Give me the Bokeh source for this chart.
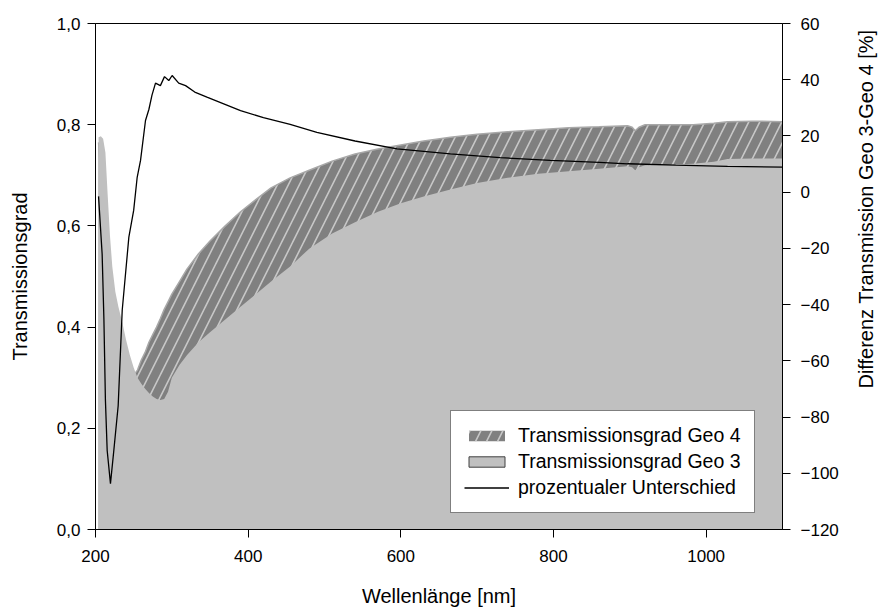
import numpy as np
from bokeh.plotting import figure
from bokeh.models import (Range1d, LinearAxis, FixedTicker, CustomJSTickFormatter,
                          Legend, LegendItem, ColumnDataSource, Label)
from bokeh.embed import file_html
from bokeh.resources import INLINE

# ---------------- data ----------------
wavelength = [204, 207, 210, 213, 216, 219, 222, 226, 230, 235, 240, 245, 250, 255,
              260, 265, 270, 275, 280, 285, 290, 295, 300, 310, 320, 335, 350, 370,
              390, 410, 430, 455, 480, 510, 540, 570, 600, 630, 665, 700, 740, 780,
              820, 860, 897, 903, 907, 912, 920, 950, 983, 1010, 1028, 1060, 1100]

geo3 = [0.775, 0.777, 0.772, 0.745, 0.66, 0.58, 0.52, 0.47, 0.44, 0.41, 0.375, 0.345,
        0.32, 0.30, 0.288, 0.278, 0.27, 0.263, 0.258, 0.256, 0.258, 0.272, 0.30,
        0.325, 0.345, 0.37, 0.39, 0.415, 0.44, 0.465, 0.49, 0.52, 0.555, 0.585,
        0.607, 0.628, 0.645, 0.658, 0.672, 0.685, 0.695, 0.703, 0.708, 0.713,
        0.718, 0.716, 0.71, 0.716, 0.72, 0.721, 0.723, 0.727, 0.732, 0.733, 0.733]

geo4 = [0.765, 0.70, 0.56, 0.45, 0.36, 0.29, 0.26, 0.25, 0.25, 0.28, 0.29, 0.295,
        0.305, 0.315, 0.335, 0.35, 0.37, 0.385, 0.40, 0.417, 0.435, 0.45, 0.465,
        0.49, 0.515, 0.545, 0.57, 0.60, 0.628, 0.652, 0.675, 0.695, 0.71, 0.728,
        0.742, 0.752, 0.76, 0.768, 0.775, 0.781, 0.786, 0.79, 0.794, 0.796,
        0.798, 0.795, 0.788, 0.795, 0.80, 0.80, 0.80, 0.803, 0.806, 0.807, 0.806]

diff_wavelength = [204, 208.7, 211, 213, 215.3, 219.6, 224, 229.7, 235, 243.7, 250,
                   254.6, 259, 265.5, 270, 274, 278.6, 285, 290.4, 296, 300.4, 309,
                   318, 330, 346, 368, 390, 420, 455, 490, 540, 595, 665, 730, 796,
                   860, 897, 960, 1028, 1100]
diff_percent = [-1.5, -22, -45, -74, -91.9, -103.7, -91.9, -76, -42, -16, -6.5,
                5.3, 11.3, 25.5, 29.5, 34.5, 38.8, 37.9, 41.1, 39.7, 41.5, 38.8,
                37.9, 35.6, 33.8, 31.4, 29, 26.5, 24.1, 21.3, 18.2, 15.4, 13.6,
                12.3, 11.3, 10.6, 10.1, 9.6, 9.2, 8.9]

x_ticks = [200, 400, 600, 800, 1000]
left_ticks = [0.0, 0.2, 0.4, 0.6, 0.8, 1.0]
right_ticks = [-120, -100, -80, -60, -40, -20, 0, 20, 40, 60]

labels = ["Transmissionsgrad Geo 4", "Transmissionsgrad Geo 3", "prozentualer Unterschied"]
x_title = "Wellenlänge [nm]"
y_title = "Transmissionsgrad"
y2_title = "Differenz Transmission Geo 3-Geo 4 [%]"

# ---------------- figure ----------------
FONT = "Liberation Sans"

p = figure(width=883, height=612, output_backend="svg", toolbar_location=None,
           x_range=Range1d(200, 1100), y_range=Range1d(0, 1.0),
           min_border_left=95, min_border_right=101, min_border_top=23,
           min_border_bottom=83)
p.extra_y_ranges = {"diff": Range1d(-120, 60)}

p.xgrid.visible = False
p.ygrid.visible = False
p.outline_line_color = "black"
p.outline_line_width = 1
p.background_fill_color = "white"
p.border_fill_color = "white"

src = ColumnDataSource(dict(x=wavelength, g3=geo3, g4=geo4, zero=[0.0] * len(wavelength)))

r4 = p.varea(x="x", y1="zero", y2="g4", source=src, fill_color="#808080",
             hatch_pattern="/", hatch_color="#c8c8c8", hatch_weight=1.6, hatch_scale=22)
p.line(x="x", y="g4", source=src, line_color="#a8a8a8", line_width=1.5)
p.varea(x="x", y1="zero", y2="g3", source=src, fill_color="#c0c0c0")
# legend-only swatch for Geo 3 (grey box with dark border)
nan_src = ColumnDataSource(dict(l=[np.nan], r=[np.nan], t=[np.nan], b=[np.nan]))
r3 = p.quad(left="l", right="r", top="t", bottom="b", source=nan_src,
            fill_color="#c0c0c0", line_color="#404040", line_width=1)
rl = p.line(x=diff_wavelength, y=diff_percent, y_range_name="diff",
            line_color="black", line_width=1.3)

# axes
def style_axis(ax, size="17px"):
    ax.axis_line_color = "black"
    ax.major_tick_line_color = "black"
    ax.major_tick_out = 8
    ax.major_tick_in = 0
    ax.minor_tick_line_color = None
    ax.major_label_text_font = FONT
    ax.major_label_text_font_size = size
    ax.major_label_text_color = "black"
    ax.axis_label_text_font = FONT
    ax.axis_label_text_font_size = "20px"
    ax.axis_label_text_font_style = "normal"
    ax.axis_label_text_color = "black"

xa = p.xaxis[0]
xa.ticker = FixedTicker(ticks=x_ticks)
xa.axis_label = x_title
style_axis(xa)
xa.major_label_standoff = 12
xa.axis_label_standoff = 20

ya = p.yaxis[0]
ya.ticker = FixedTicker(ticks=left_ticks)
ya.formatter = CustomJSTickFormatter(code="return tick.toFixed(1).replace('.', ',');")
ya.axis_label = y_title
style_axis(ya)
ya.major_label_standoff = 7
ya.axis_label_standoff = 23

ra = LinearAxis(y_range_name="diff", ticker=FixedTicker(ticks=right_ticks))
style_axis(ra)
ra.major_label_standoff = 10
p.add_layout(ra, "right")

# right-axis title, reading bottom-to-top as in the reference
# (placed in the right side panel so that it is not clipped to the frame)
p.add_layout(Label(x=1210, y=-6, y_range_name="diff", text=y2_title, angle=np.pi / 2,
                   text_align="center", text_baseline="middle", text_font=FONT,
                   text_font_size="20px", text_color="black"), "right")

legend = Legend(items=[LegendItem(label=labels[0], renderers=[r4]),
                       LegendItem(label=labels[1], renderers=[r3]),
                       LegendItem(label=labels[2], renderers=[rl])],
                location=(355, 16))
legend.label_text_font = FONT
legend.label_text_font_size = "19.5px"
legend.label_text_color = "black"
legend.glyph_width = 45
legend.glyph_height = 13
legend.label_standoff = 9
legend.label_height = 22
legend.spacing = 3
legend.padding = 13
legend.margin = 0
legend.border_line_color = "black"
legend.border_line_width = 1
legend.background_fill_color = "white"
legend.background_fill_alpha = 1
p.add_layout(legend, "center")

open("out.html", "w").write(file_html(p, INLINE))
